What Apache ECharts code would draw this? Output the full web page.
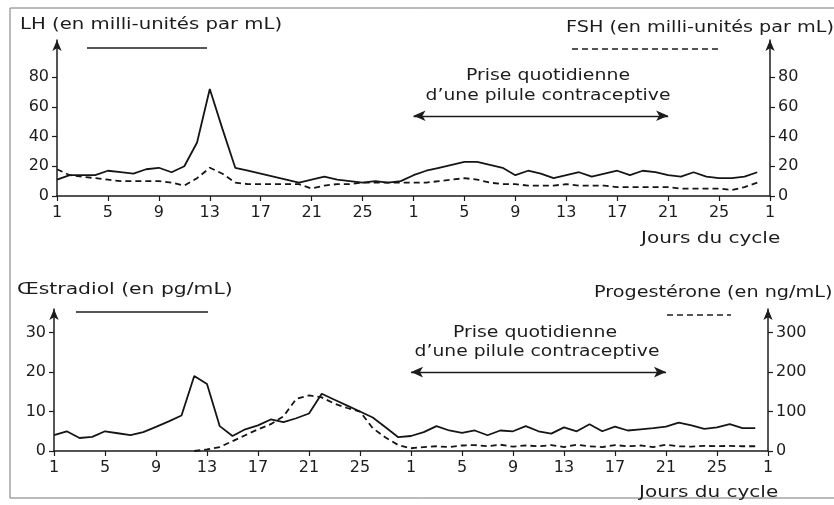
<!DOCTYPE html>
<html>
<head>
<meta charset="utf-8">
<script src="https://cdn.jsdelivr.net/npm/echarts@6/dist/echarts.min.js"></script>
<style>
  html, body { margin: 0; padding: 0; background: #fff; }
  #chart { width: 834px; height: 505px; }
</style>
</head>
<body>
<div id="chart"></div>
<script>
// jours : index 0..55 sur deux cycles de 28 jours
var dayTicks = [1, 5, 9, 13, 17, 21, 25];

// hormones hypophysaires (mUI/mL)
var lh  = [11,14,14,14,17,16,15,18,19,16, 20,36,72,45,19,17,15,13,11,9,
           11,13,11,10,9,10,9,10,14,17, 19,21,23,23,21,19,14,17,15,12,
           14,16,13,15,17,14,17,16,14,13, 16,13,12,12,13,16];
var fsh = [18,14,13,12,11,10,10,10,10,9, 7,12,19,15,9,8,8,8,8,8,
           5,7,8,8,9,9,9,9,9,9, 10,11,12,11,9,8,8,7,7,7,
           8,7,7,7,6,6,6,6,6,5, 5,5,5,4,6,9];

// hormones ovariennes
var estradiol = [4,5,3.3,3.6,5,4.5,4,4.8,6.1,7.5, 9,19,17,6.3,3.8,5.5,6.5,8,7.3,8.3,
                 9.5,14.5,13,11.5,10,8.5,6,3.5,3.8,4.8, 6.3,5.2,4.6,5.2,4,5.2,5,6.3,5,4.4,
                 6,5,6.8,5,6.2,5.2,5.5,5.8,6.2,7.2, 6.5,5.6,6,6.8,5.8,5.8];
var progesterone = [null,null,null,null,null,null,null,null,null,null,
                    null,0,4,10,25,40,55,68,88,132,
                    141,136,120,109,100,58,34,15,7,10,
                    12,10,14,15,12,16,11,14,12,15,
                    10,16,12,10,15,12,14,10,16,12,
                    11,13,12,13,12,12];

// période de prise de la pilule (index de début / fin)
var pillStart = 28, pillEnd = 48;

var INK = '#1c1c1c';
var FONT = 'DejaVu Sans';

function toPoints(arr) {
    return arr.map(function (v, i) { return [i, v]; });
}

function xAxisFor(gridIndex) {
    return {
        gridIndex: gridIndex,
        type: 'value',
        min: 0,
        max: 56,
        interval: 4,
        axisLine: { onZero: false, lineStyle: { color: INK, width: 1.5 } },
        axisTick: { length: 5, lineStyle: { color: INK, width: 1.2 } },
        axisLabel: {
            color: INK, fontFamily: FONT, fontSize: 16, margin: 9,
            formatter: function (v) { return String(dayTicks[(v % 28) / 4] || 1); }
        },
        splitLine: { show: false }
    };
}

function yAxisFor(gridIndex, pos, max, ticks) {
    return {
        gridIndex: gridIndex,
        type: 'value',
        position: pos,
        min: 0,
        max: max,
        interval: ticks[1],
        axisLine: {
            show: true, onZero: false,
            symbol: ['none', 'arrow'], symbolSize: [7, 11],
            lineStyle: { color: INK, width: 1.5 }
        },
        axisTick: { show: true, length: 5, customValues: ticks, lineStyle: { color: INK, width: 1.2 } },
        axisLabel: { color: INK, fontFamily: FONT, fontSize: 16, margin: 8, customValues: ticks },
        splitLine: { show: false }
    };
}

// flèche double de la prise de pilule
function pillMarkLine(yVal) {
    return {
        silent: true,
        symbol: ['arrow', 'arrow'],
        symbolSize: [8, 12],
        lineStyle: { color: INK, width: 1.3, type: 'solid' },
        label: { show: false },
        data: [[{ coord: [pillStart, yVal] }, { coord: [pillEnd, yVal] }]]
    };
}

function lineSeries(name, data, xi, yi, dashed) {
    return {
        name: name,
        type: 'line',
        xAxisIndex: xi,
        yAxisIndex: yi,
        data: toPoints(data),
        symbol: 'none',
        connectNulls: false,
        lineStyle: { color: '#151515', width: 1.8, type: dashed ? [6, 4] : 'solid' }
    };
}

// le texte d'origine est plus large : on l'étire un peu
function label(text, x, y, sx, align) {
    return {
        type: 'text', x: x, y: y, scaleX: sx || 1.2,
        style: {
            text: text, fill: INK, font: '16px "' + FONT + '"',
            verticalAlign: 'middle', align: align || 'left'
        }
    };
}

function sample(x1, x2, y, dashed) {
    return {
        type: 'line',
        shape: { x1: x1, y1: y, x2: x2, y2: y },
        style: { stroke: INK, lineWidth: 1.4, lineDash: dashed ? [6, 4] : null }
    };
}

var chart = echarts.init(document.getElementById('chart'));

chart.setOption({
    backgroundColor: '#fff',
    animation: false,
    grid: [
        { left: 57, right: 64, top: 40, height: 156 },
        { left: 54, right: 66, top: 309, height: 142 }
    ],
    xAxis: [xAxisFor(0), xAxisFor(1)],
    yAxis: [
        yAxisFor(0, 'left', 105, [0, 20, 40, 60, 80]),
        yAxisFor(0, 'right', 105, [0, 20, 40, 60, 80]),
        yAxisFor(1, 'left', 36, [0, 10, 20, 30]),
        yAxisFor(1, 'right', 360, [0, 100, 200, 300])
    ],
    series: [
        Object.assign(lineSeries('LH', lh, 0, 0, false), { markLine: pillMarkLine(54) }),
        lineSeries('FSH', fsh, 0, 1, true),
        Object.assign(lineSeries('Œstradiol', estradiol, 1, 2, false), { markLine: pillMarkLine(20) }),
        lineSeries('Progestérone', progesterone, 1, 3, true)
    ],
    graphic: [
        {
            type: 'rect',
            shape: { x: 10, y: 8, width: 830, height: 490 },
            style: { fill: 'none', stroke: '#777', lineWidth: 1 }
        },
        label('LH (en milli-unités par mL)', 20, 25, 1.23),
        label('FSH (en milli-unités par mL)', 566, 28, 1.2),
        label('Prise quotidienne', 548, 76, 1.18, 'center'),
        label('d\u2019une pilule contraceptive', 548, 96, 1.17, 'center'),
        label('Jours du cycle', 641, 239, 1.25),
        label('Œstradiol (en pg/mL)', 17, 290, 1.27),
        label('Progestérone (en ng/mL)', 594, 293, 1.2),
        label('Prise quotidienne', 535, 333, 1.18, 'center'),
        label('d\u2019une pilule contraceptive', 537, 352, 1.17, 'center'),
        label('Jours du cycle', 639, 493, 1.25),
        sample(87, 207, 48, false),
        sample(572, 722, 49, true),
        sample(76, 208, 312, false),
        sample(667, 731, 315, true)
    ]
});
</script>
</body>
</html>
